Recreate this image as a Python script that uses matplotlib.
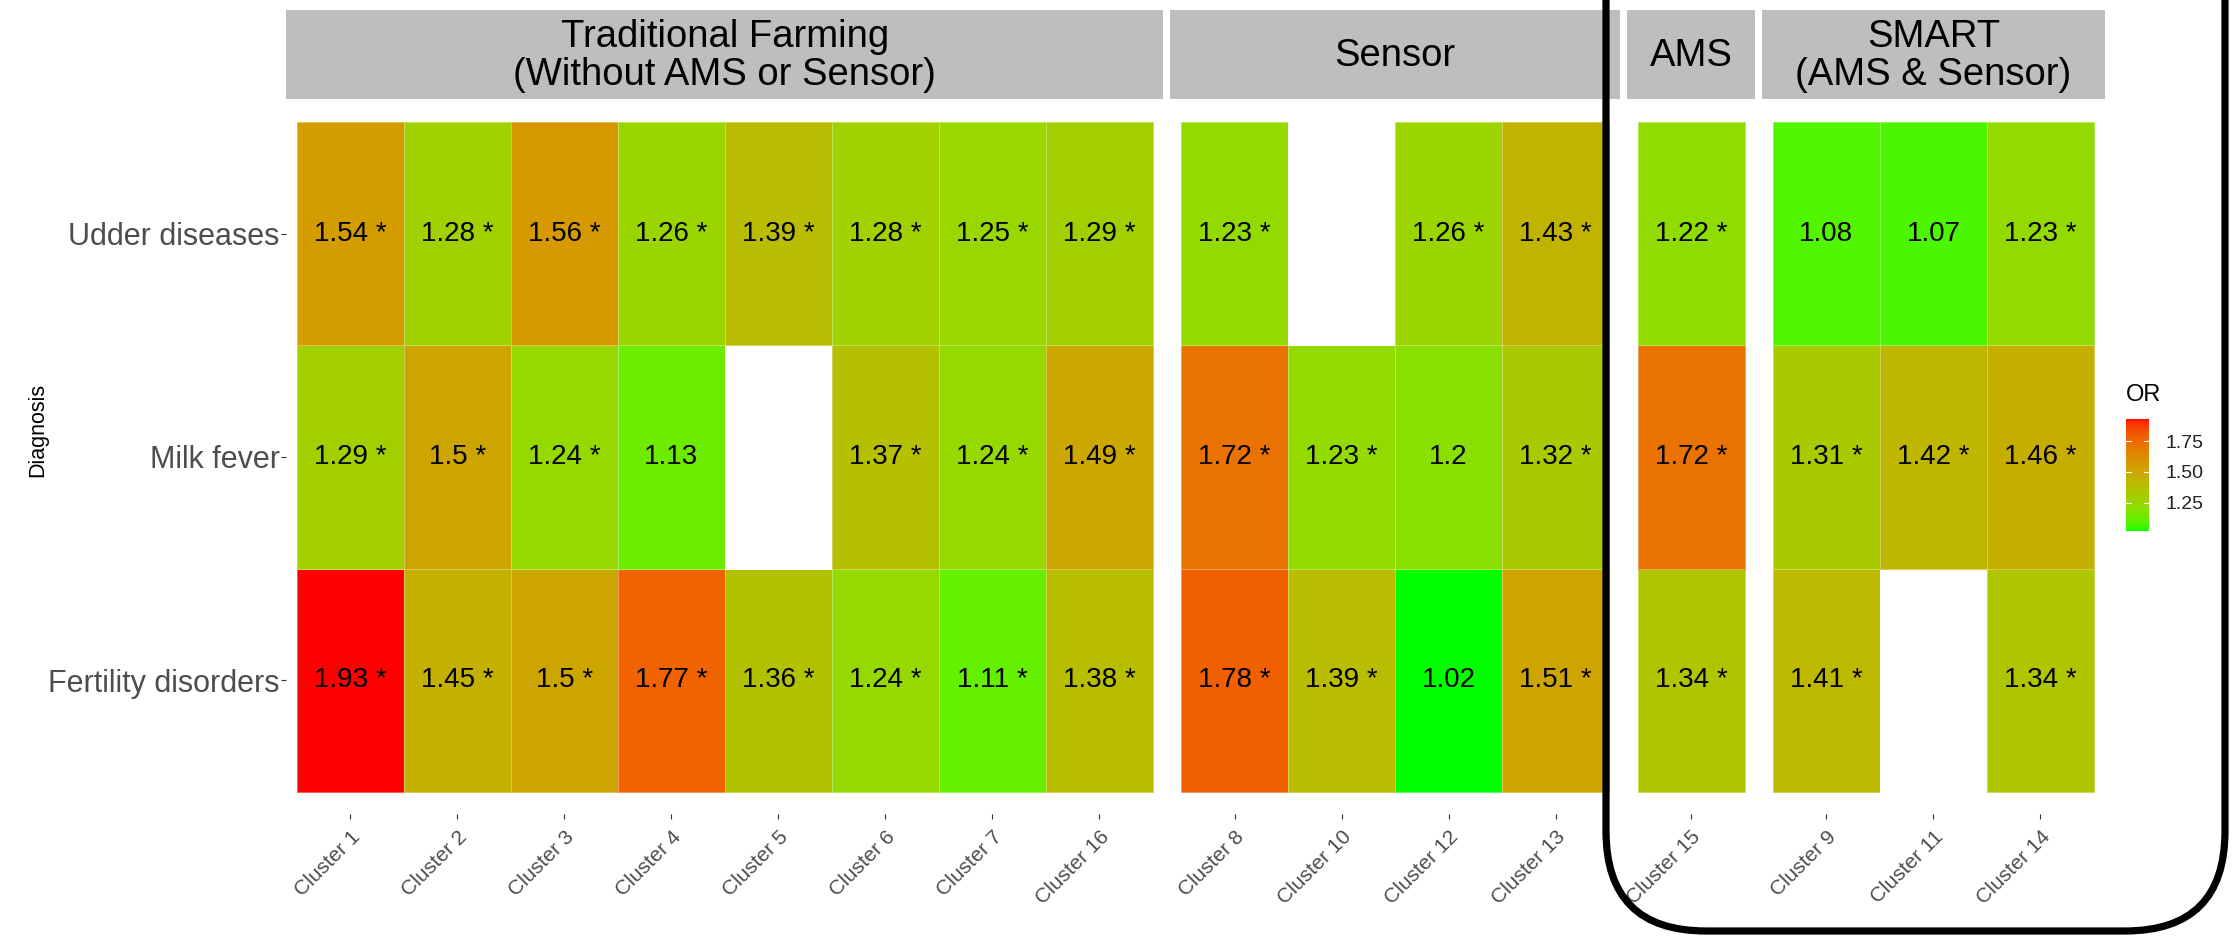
import numpy as np
import matplotlib
matplotlib.use("Agg")
import matplotlib.pyplot as plt
from matplotlib.colors import ListedColormap, Normalize
from matplotlib.patches import FancyBboxPatch

plt.rcParams["font.family"] = ["Liberation Sans", "DejaVu Sans"]

# ---------------- data ----------------
diagnoses = ["Udder diseases", "Milk fever", "Fertility disorders"]

group_titles = ["Traditional Farming\n(Without AMS or Sensor)", "Sensor", "AMS",
                "SMART\n(AMS & Sensor)"]

trad_clusters = ["Cluster 1", "Cluster 2", "Cluster 3", "Cluster 4",
                 "Cluster 5", "Cluster 6", "Cluster 7", "Cluster 16"]
trad_or = [[1.54, 1.28, 1.56, 1.26, 1.39, 1.28, 1.25, 1.29],
           [1.29, 1.50, 1.24, 1.13, np.nan, 1.37, 1.24, 1.49],
           [1.93, 1.45, 1.50, 1.77, 1.36, 1.24, 1.11, 1.38]]
trad_sig = [[1, 1, 1, 1, 1, 1, 1, 1],
            [1, 1, 1, 0, 0, 1, 1, 1],
            [1, 1, 1, 1, 1, 1, 1, 1]]

sensor_clusters = ["Cluster 8", "Cluster 10", "Cluster 12", "Cluster 13"]
sensor_or = [[1.23, np.nan, 1.26, 1.43],
             [1.72, 1.23, 1.20, 1.32],
             [1.78, 1.39, 1.02, 1.51]]
sensor_sig = [[1, 0, 1, 1],
              [1, 1, 0, 1],
              [1, 1, 0, 1]]

ams_clusters = ["Cluster 15"]
ams_or = [[1.22], [1.72], [1.34]]
ams_sig = [[1], [1], [1]]

smart_clusters = ["Cluster 9", "Cluster 11", "Cluster 14"]
smart_or = [[1.08, 1.07, 1.23],
            [1.31, 1.42, 1.46],
            [1.41, np.nan, 1.34]]
smart_sig = [[0, 0, 1],
             [1, 1, 1],
             [1, 0, 1]]

legend_ticks = [1.25, 1.50, 1.75]

panels = [(group_titles[0], trad_clusters, trad_or, trad_sig),
          (group_titles[1], sensor_clusters, sensor_or, sensor_sig),
          (group_titles[2], ams_clusters, ams_or, ams_sig),
          (group_titles[3], smart_clusters, smart_or, smart_sig)]


# ---------------- green -> red gradient interpolated in CIE Lab ----------------
def _srgb_to_lab(rgb):
    rgb = np.asarray(rgb, float)
    lin = np.where(rgb <= 0.04045, rgb / 12.92, ((rgb + 0.055) / 1.055) ** 2.4)
    m = np.array([[0.4124564, 0.3575761, 0.1804375],
                  [0.2126729, 0.7151522, 0.0721750],
                  [0.0193339, 0.1191920, 0.9503041]])
    xyz = m @ lin
    white = np.array([0.95047, 1.0, 1.08883])
    t = xyz / white
    d = 6 / 29
    f = np.where(t > d ** 3, np.cbrt(t), t / (3 * d * d) + 4 / 29)
    return np.array([116 * f[1] - 16, 500 * (f[0] - f[1]), 200 * (f[1] - f[2])])


def _lab_to_srgb(lab):
    L, a, b = lab
    fy_ = (L + 16) / 116
    fx_ = fy_ + a / 500
    fz_ = fy_ - b / 200
    d = 6 / 29

    def finv(f):
        return np.where(f > d, f ** 3, 3 * d * d * (f - 4 / 29))
    white = np.array([0.95047, 1.0, 1.08883])
    xyz = np.array([finv(fx_), finv(fy_), finv(fz_)]) * white
    minv = np.array([[3.2404542, -1.5371385, -0.4985314],
                     [-0.9692660, 1.8760108, 0.0415560],
                     [0.0556434, -0.2040259, 1.0572252]])
    lin = np.clip(minv @ xyz, 0, 1)
    srgb = np.where(lin <= 0.0031308, 12.92 * lin, 1.055 * lin ** (1 / 2.4) - 0.055)
    return np.clip(srgb, 0, 1)


lab_lo = _srgb_to_lab([0.0, 1.0, 0.0])
lab_hi = _srgb_to_lab([1.0, 0.0, 0.0])
grad = [_lab_to_srgb(lab_lo + (lab_hi - lab_lo) * t) for t in np.linspace(0, 1, 256)]
cmap = ListedColormap(grad)
cmap.set_bad("white")

all_vals = np.concatenate([np.ravel(np.array(p[2], float)) for p in panels])
norm = Normalize(vmin=np.nanmin(all_vals), vmax=np.nanmax(all_vals))

# ---------------- layout (pixels) ----------------
W, H = 2232, 938
fig = plt.figure(figsize=(W / 100, H / 100), dpi=100)

unit = 107.0
gap = 7.0
x0 = 286.0
panel_top, panel_bot = 100.0, 814.0
strip_top, strip_bot = 10.0, 99.0

tick_col = "#4D4D4D"


def fx(px):
    return px / W


def fy(py):
    return 1 - py / H


left = x0
for k, (title, clusters, vals, sig) in enumerate(panels):
    n = len(clusters)
    width = (n + 0.2) * unit
    ax = fig.add_axes([fx(left), fy(panel_bot), fx(width), (panel_bot - panel_top) / H])
    data = np.ma.masked_invalid(np.array(vals, float)[::-1])
    xe = np.arange(n + 1) - 0.5
    ye = np.arange(4) - 0.5
    ax.pcolormesh(xe, ye, data, cmap=cmap, norm=norm,
                  edgecolors=(1, 1, 1, 0.35), linewidth=0.6)
    for r in range(3):
        for j in range(n):
            v = vals[r][j]
            if np.isnan(v):
                continue
            label = f"{v:g}" + (" *" if sig[r][j] else "")
            ax.text(j, 2 - r, label, ha="center", va="center", fontsize=20,
                    color="black")
    ax.set_xlim(-0.6, n - 0.4)
    ax.set_ylim(-0.6, 2.6)
    for s in ax.spines.values():
        s.set_visible(False)
    ax.set_xticks(range(n))
    ax.set_xticklabels(clusters, rotation=45, ha="right", va="top",
                       rotation_mode="anchor", fontsize=15, color=tick_col)
    ax.tick_params(axis="x", length=3.5, width=0.8, color="#333333", pad=6)
    if k == 0:
        ax.set_yticks([2, 1, 0])
        ax.set_yticklabels(diagnoses, fontsize=22, color=tick_col)
        ax.tick_params(axis="y", length=3.5, width=0.8, color="#333333", pad=1)
    else:
        ax.set_yticks([])

    # facet strip
    sax = fig.add_axes([fx(left), fy(strip_bot), fx(width), (strip_bot - strip_top) / H])
    sax.set_facecolor("#BEBEBE")
    sax.set_xticks([])
    sax.set_yticks([])
    for s in sax.spines.values():
        s.set_visible(False)
    sax.text(0.5, 0.48, title, ha="center", va="center", fontsize=27.5,
             color="black", linespacing=1.08, transform=sax.transAxes)

    left += width + gap

fig.text(fx(38), fy(430), "Diagnosis", rotation=90, ha="center", va="center",
         fontsize=15.5, color="black")

# ---------------- colour legend ----------------
cb_l, cb_r, cb_t, cb_b = 2126, 2149, 419, 531
cax = fig.add_axes([fx(cb_l), fy(cb_b), fx(cb_r - cb_l), (cb_b - cb_t) / H])
grad_vals = np.linspace(norm.vmin, norm.vmax, 300).reshape(-1, 1)
cax.imshow(grad_vals, cmap=cmap, norm=norm, aspect="auto", origin="lower",
           extent=(0, 1, norm.vmin, norm.vmax))
cax.set_xlim(0, 1)
cax.set_ylim(norm.vmin, norm.vmax)
for t in legend_ticks:
    cax.plot([0, 0.2], [t, t], color="white", lw=0.8)
    cax.plot([0.8, 1], [t, t], color="white", lw=0.8)
cax.set_xticks([])
cax.yaxis.tick_right()
cax.set_yticks(legend_ticks)
cax.set_yticklabels([f"{t:.2f}" for t in legend_ticks], fontsize=14, color="#222222")
cax.tick_params(axis="y", length=0, pad=12)
for s in cax.spines.values():
    s.set_visible(False)
fig.text(fx(2126), fy(395), "OR", ha="left", va="center", fontsize=17, color="black")

# ---------------- rounded frame around the automated groups ----------------
oax = fig.add_axes([0, 0, 1, 1], facecolor="none", zorder=10)
oax.set_xlim(0, W)
oax.set_ylim(H, 0)
oax.axis("off")
frame = FancyBboxPatch((1606, -300), 2225 - 1606, 931 + 300,
                       boxstyle="round,pad=0,rounding_size=100",
                       fill=False, edgecolor="black", linewidth=5.2)
oax.add_patch(frame)

fig.savefig("out.png", dpi=100, facecolor="white")
